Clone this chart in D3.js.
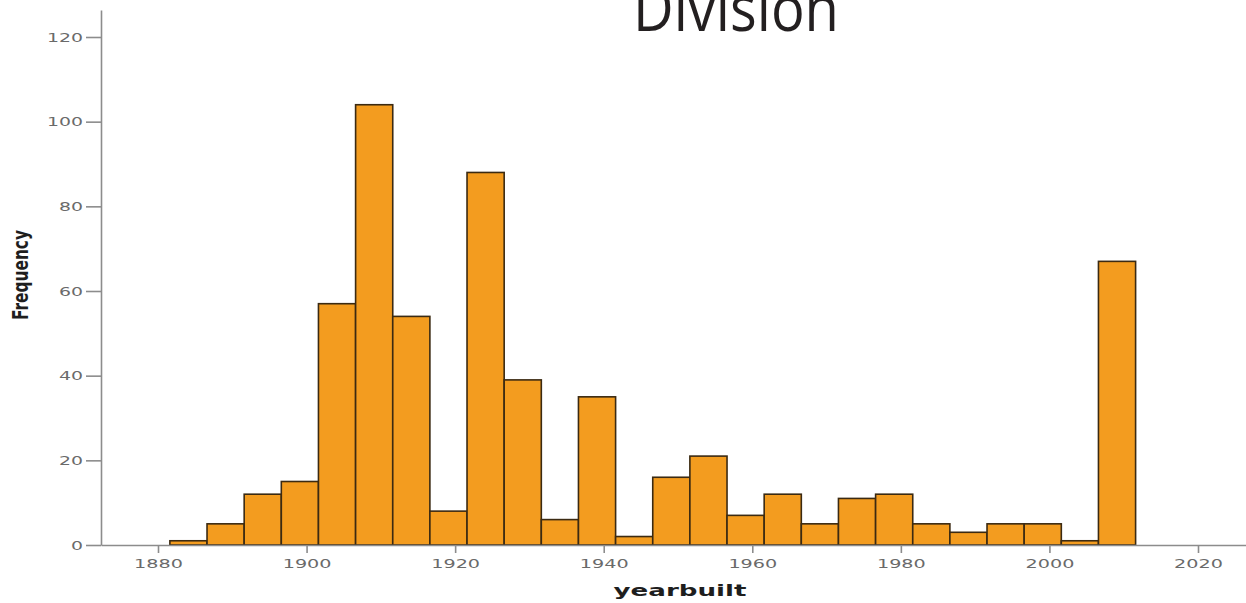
<!DOCTYPE html>
<html>
<head>
<meta charset="utf-8">
<script src="https://cdn.jsdelivr.net/npm/d3@7"></script>
<style>
  body { margin: 0; background: #fff; }
  svg { display: block; }
  .axis path, .axis line { stroke: #8c8c8c; stroke-width: 1.6; }
  .axis text { fill: #6a6a6a; font-family: "DejaVu Sans", sans-serif; font-size: 13px; }
</style>
</head>
<body>
<svg class="chart"></svg>
<script>
/*Histogram data: lower edge of each 5-year bin and its count*/
const binStarts = [1881.6, 1886.6, 1891.6, 1896.6, 1901.6, 1906.6, 1911.6, 1916.6, 1921.6, 1926.6,
                   1931.6, 1936.6, 1941.6, 1946.6, 1951.6, 1956.6, 1961.6, 1966.6, 1971.6, 1976.6,
                   1981.6, 1986.6, 1991.6, 1996.6, 2001.6, 2006.6]
const counts = [1, 5, 12, 15, 57, 104, 54, 8, 88, 39,
                6, 35, 2, 16, 21, 7, 12, 5, 11, 12,
                5, 3, 5, 5, 1, 67]
const binWidth = 5
const xTicks = [1880, 1900, 1920, 1940, 1960, 1980, 2000, 2020]
const yTicks = [0, 20, 40, 60, 80, 100, 120]

const width = 1246,
      height = 603

var chart = d3.select(".chart")
    .attr("width", width)
    .attr("height", height)

/*Scales: anchor the ticks, then stretch the domain to the axis line ends*/
var xBase = d3.scaleLinear().domain([1880, 2020]).range([158, 1198])
var x = d3.scaleLinear()
    .domain([xBase.invert(101), xBase.invert(1246)])
    .range([101, 1246])

var yBase = d3.scaleLinear().domain([0, 120]).range([545, 37])
var y = d3.scaleLinear()
    .domain([0, yBase.invert(10)])
    .range([545, 10])

/*Title, its top cut off by the frame like the source slide*/
chart.append("text")
    .attr("x", 736)
    .attr("y", 31)
    .attr("text-anchor", "middle")
    .attr("fill", "#231f20")
    .attr("font-family", "'Open Sans', 'DejaVu Sans', sans-serif")
    .attr("font-size", "64px")
    .attr("textLength", 206)
    .attr("lengthAdjust", "spacingAndGlyphs")
    .text("Division")

/*Bars*/
chart.append("g")
    .selectAll("rect")
    .data(counts)
    .enter()
    .append("rect")
      .attr("x", (d, i) => x(binStarts[i]))
      .attr("width", (d, i) => x(binStarts[i] + binWidth) - x(binStarts[i]))
      .attr("y", (d) => y(d))
      .attr("height", (d) => y(0) - y(d))
      .attr("fill", "#f39c1f")
      .attr("stroke", "#3b2a12")
      .attr("stroke-width", 1.6)

/*Axes*/
var xAxis = chart.append("g")
    .attr("class", "axis")
    .attr("transform", "translate(0," + 545 + ")")
    .call(d3.axisBottom(x).tickValues(xTicks).tickSize(8).tickSizeOuter(0).tickPadding(6).tickFormat(d3.format("d")))

xAxis.selectAll("text")
    .attr("textLength", (d) => String(d).length * 12.2)
    .attr("lengthAdjust", "spacingAndGlyphs")

var yAxis = chart.append("g")
    .attr("class", "axis")
    .attr("transform", "translate(" + 101 + ",0)")
    .call(d3.axisLeft(y).tickValues(yTicks).tickSize(15).tickSizeOuter(0).tickPadding(3))

yAxis.selectAll("text")
    .attr("textLength", (d) => String(d).length * 12)
    .attr("lengthAdjust", "spacingAndGlyphs")

/*Axis titles*/
chart.append("text")
    .attr("x", 680)
    .attr("y", 596)
    .attr("text-anchor", "middle")
    .attr("fill", "#1e1e1e")
    .attr("font-family", "'DejaVu Sans', sans-serif")
    .attr("font-weight", "bold")
    .attr("font-size", "15px")
    .attr("textLength", 133)
    .attr("lengthAdjust", "spacingAndGlyphs")
    .text("yearbuilt")

chart.append("text")
    .attr("transform", "translate(" + 28 + "," + 275 + ") rotate(-90)")
    .attr("text-anchor", "middle")
    .attr("fill", "#1e1e1e")
    .attr("font-family", "'Liberation Sans Narrow', 'DejaVu Sans Condensed', sans-serif")
    .attr("font-weight", "bold")
    .attr("font-size", "22px")
    .attr("textLength", 90)
    .attr("lengthAdjust", "spacingAndGlyphs")
    .text("Frequency")
</script>
</body>
</html>
